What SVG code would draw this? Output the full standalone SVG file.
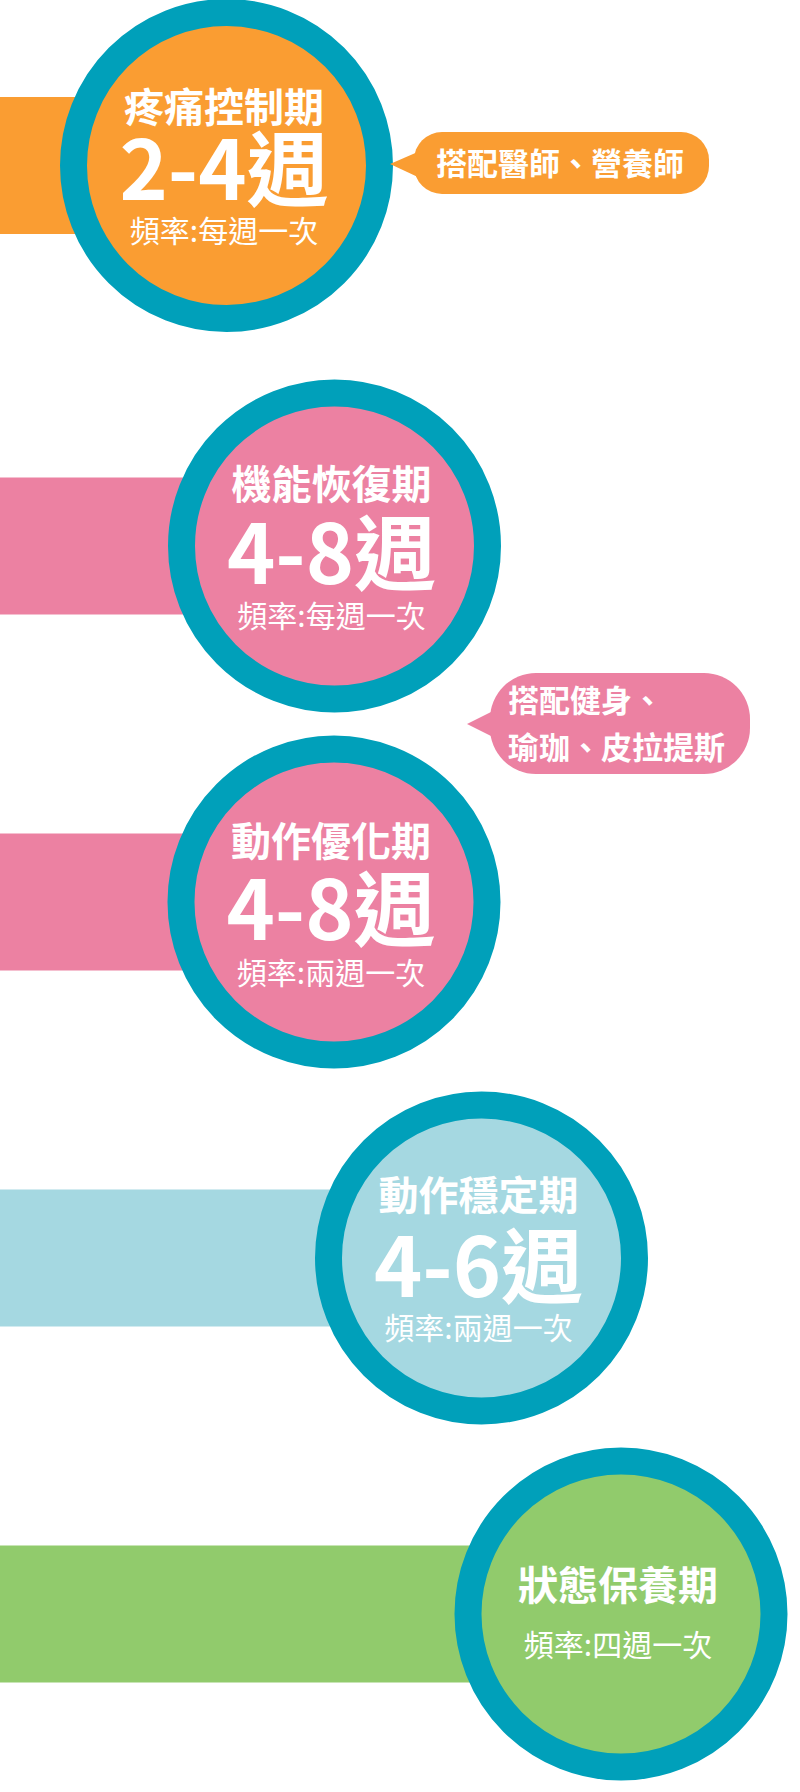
<svg xmlns="http://www.w3.org/2000/svg" width="800" height="1792" viewBox="0 0 800 1792">
  <style>
    text { font-family: "Noto Sans CJK TC", "Noto Sans CJK SC", sans-serif; fill: #FFFFFF; text-anchor: middle; }
    .title { font-size: 40px; font-weight: 700; }
    .big { font-size: 82px; font-weight: 700; }
    .small { font-size: 30px; font-weight: 400; }
    .note { font-size: 31px; font-weight: 700; }
    .ring { stroke: #00A0BA; stroke-width: 27; }
  </style>
  <rect width="800" height="1792" fill="#FFFFFF"/>
  <g id="connectors">
    <rect x="0" y="97" width="150" height="137" fill="#FA9D32"/>
    <rect x="0" y="477.5" width="240" height="137" fill="#EC81A2"/>
    <rect x="0" y="833.5" width="240" height="137" fill="#EC81A2"/>
    <rect x="0" y="1189.5" width="380" height="137" fill="#A5D8E1"/>
    <rect x="0" y="1545.5" width="520" height="137" fill="#91CB6C"/>
  </g>
  <g id="node-pain">
    <circle class="ring" cx="226.5" cy="165.5" r="153" fill="#FA9D32"/>
    <text class="title" x="224" y="122">疼痛控制期</text>
    <text class="big" x="224" y="200">2-4週</text>
    <text class="small" x="224" y="242">頻率:每週一次</text>
  </g>
  <g id="note-doctor">
    <rect x="414" y="132" width="295" height="62" rx="28" fill="#FA9D32"/>
    <polygon points="420,151 390,164 420,178" fill="#FA9D32"/>
    <text class="note" x="560" y="174.5">搭配醫師、營養師</text>
  </g>
  <g id="node-recovery">
    <circle class="ring" cx="334.5" cy="546" r="153" fill="#EC81A2"/>
    <text class="title" x="331.5" y="499">機能恢復期</text>
    <text class="big" x="331.5" y="584">4-8週</text>
    <text class="small" x="331.5" y="627">頻率:每週一次</text>
  </g>
  <g id="note-fitness">
    <rect x="490" y="673" width="260" height="101" rx="46" fill="#EC81A2"/>
    <polygon points="495,710 467,724 495,738" fill="#EC81A2"/>
    <text class="note" x="508" y="712" style="text-anchor:start">搭配健身、</text>
    <text class="note" x="508" y="758.5" style="text-anchor:start">瑜珈、皮拉提斯</text>
  </g>
  <g id="node-optimize">
    <circle class="ring" cx="334" cy="902" r="153" fill="#EC81A2"/>
    <text class="title" x="331" y="856">動作優化期</text>
    <text class="big" x="331" y="940">4-8週</text>
    <text class="small" x="331" y="983.5">頻率:兩週一次</text>
  </g>
  <g id="node-stabilize">
    <circle class="ring" cx="481.5" cy="1258" r="153" fill="#A5D8E1"/>
    <text class="title" x="478.5" y="1210">動作穩定期</text>
    <text class="big" x="478.5" y="1297">4-6週</text>
    <text class="small" x="478.5" y="1338.5">頻率:兩週一次</text>
  </g>
  <g id="node-maintain">
    <circle class="ring" cx="621" cy="1614" r="153" fill="#91CB6C"/>
    <text class="title" x="618" y="1600">狀態保養期</text>
    <text class="small" x="618" y="1656">頻率:四週一次</text>
  </g>
</svg>
